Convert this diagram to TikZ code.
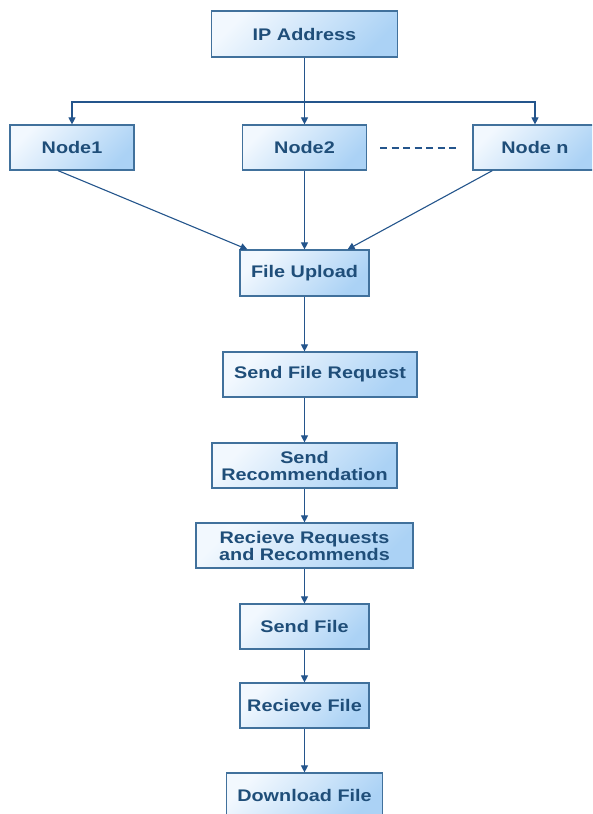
\documentclass[tikz,border=0pt]{standalone}
\usepackage{fontspec}
\setmainfont{Liberation Sans}[FakeStretch=1.18]
\usetikzlibrary{arrows.meta,calc}
\definecolor{txtblue}{HTML}{1F4E79}
\definecolor{edgeblue}{HTML}{41719C}
\definecolor{lineblue}{HTML}{24558C}
\definecolor{boxlight}{HTML}{F2F8FE}
\definecolor{boxdark}{HTML}{ABD2F5}
\tikzset{
  box/.style={draw=edgeblue, line width=1.2pt, top color=boxlight, bottom color=boxdark,
    shading angle=45, inner sep=0pt, align=center, text=txtblue,
    font=\bfseries\fontsize{16.8}{17}\selectfont},
  conn/.style={draw=lineblue, line width=1.1pt, -{Triangle[length=7pt,width=7pt]}},
  dots/.style={draw=lineblue, line width=2pt, dash pattern=on 7pt off 4.5pt}
}
\begin{document}
\begin{tikzpicture}[x=1pt,y=-1pt]
\useasboundingbox (0,0) rectangle (592,814);
\clip (0,0) rectangle (592,814);
\fill[white] (0,0) rectangle (592,814);
\node[box, minimum width=186pt, minimum height=46pt] (ip) at (304.5,34) {IP Address};
\node[box, minimum width=124pt, minimum height=45pt] (n1) at (72,147.5) {Node1};
\node[box, minimum width=124pt, minimum height=45pt] (n2) at (304.5,147.5) {Node2};
\node[box, minimum width=124pt, minimum height=45pt] (nn) at (535,147.5) {Node n};
\node[box, minimum width=129pt, minimum height=46pt] (fu) at (304.5,273) {File Upload};
\node[box, minimum width=194pt, minimum height=45pt] (sfr) at (320,374.5) {Send File Request};
\node[box, minimum width=185pt, minimum height=45pt] (sr) at (304.5,465.5) {Send\\Recommendation};
\node[box, minimum width=217pt, minimum height=45pt] (rr) at (304.5,545.5) {Recieve Requests\\and Recommends};
\node[box, minimum width=129pt, minimum height=45pt] (sf) at (304.5,626.5) {Send File};
\node[box, minimum width=129pt, minimum height=45pt] (rf) at (304.5,705.5) {Recieve File};
\node[box, minimum width=156pt, minimum height=45pt] (df) at (304.5,795.5) {Download File};
\coordinate (bus) at (304.5,102);
\coordinate (d1) at (380,148);
\coordinate (d2) at (457,148);
% connectors
\draw[conn] (ip.south) -- (n2.north);
\draw[conn] (bus) -| (n1.north);
\draw[conn] (bus) -| (nn.north);
\draw[dots] (d1) -- (d2);
\draw[conn] ($(n1.south)+(-14,0)$) -- ($(fu.north west)+(8,0)$);
\draw[conn] (n2.south) -- (fu.north);
\draw[conn] ($(nn.south west)+(20,0)$) -- ($(fu.north east)+(-22,0)$);
\draw[conn] (fu.south) -- (fu.south |- sfr.north);
\draw[conn] (fu.south |- sfr.south) -- (sr.north);
\draw[conn] (sr.south) -- (rr.north);
\draw[conn] (rr.south) -- (sf.north);
\draw[conn] (sf.south) -- (rf.north);
\draw[conn] (rf.south) -- (df.north);
\end{tikzpicture}
\end{document}
